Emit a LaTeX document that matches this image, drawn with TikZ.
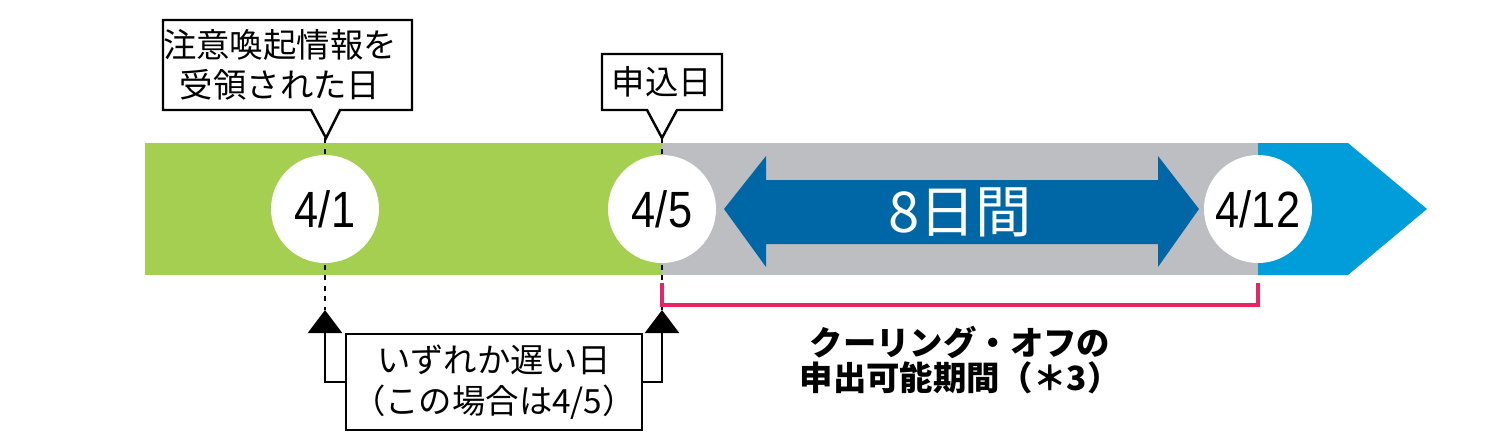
\documentclass[tikz,border=0pt]{standalone}
\usepackage{fontspec}
\setmainfont{Liberation Sans}
\newfontfamily\jpfont{Noto Sans CJK JP}
\usetikzlibrary{arrows.meta, positioning}

\definecolor{grassgreen}{RGB}{165,207,80}
\definecolor{bandgray}{RGB}{189,190,194}
\definecolor{skyblue}{RGB}{0,157,219}
\definecolor{deepblue}{RGB}{0,103,166}
\definecolor{coolpink}{RGB}{234,35,100}

\tikzset{
  datedot/.style = {circle, fill=white, inner sep=0pt, minimum size=108*0.02cm,
                    font=\fontsize{29}{29}\selectfont},
  jptext/.style  = {align=center, font=\jpfont\fontsize{19}{23}\selectfont},
  callout/.style = {draw, line width=1.4pt, fill=white},
}

\begin{document}
\begin{tikzpicture}[x=0.02cm, y=-0.02cm]
    \useasboundingbox (0, 0) rectangle (1499, 433);
    % bands
    \fill [grassgreen] (145, 143) rectangle (662, 275);
    \fill [bandgray] (662, 143) rectangle (1258, 275);
    \fill [skyblue] (1258, 143) -- (1348, 143) -- (1427, 209) -- (1348, 275) -- (1258, 275) -- cycle;

    % eight days
    \fill [deepblue] (724, 209) -- (766, 156) -- (766, 180) -- (1158, 180) -- (1158, 156)
      -- (1199, 209) -- (1158, 267) -- (1158, 244) -- (766, 244) -- (766, 267) -- cycle;
    \node [text=white, font=\jpfont\fontsize{32}{32}\selectfont] (span) at (960, 212) {8日間};

    % dashed ticks
    \draw [dashed, line width=0.8pt] (325, 138) -- (325, 310);
    \draw [dashed, line width=0.8pt] (662, 138) -- (662, 310);

    \foreach \x/\d/\n in {325/4\slash1/d1, 662/4\slash5/d5, 1258/4\slash12/d12} {
      \node [datedot] (\n) at (\x, 209) {\scalebox{0.85}[1]{\d}};
    }

    % callouts above
    \draw [callout] (163, 20) -- (412, 20) -- (412, 110) -- (340, 110) -- (326, 138)
      -- (311, 110) -- (163, 110) -- cycle;
    \node [jptext] (notice) at (280, 65) {注意喚起情報を\\受領された日};
    \draw [callout] (602, 54) -- (722, 54) -- (722, 110) -- (677, 110) -- (662, 138)
      -- (647, 110) -- (602, 110) -- cycle;
    \node [jptext] (apply) at (662, 82) {申込日};

    % later of the two
    \node [callout, jptext, minimum width=262*0.02cm, minimum height=96*0.02cm] (later) at (494, 382)
      {いずれか遅い日\\（この場合は4/5）};
    \coordinate (up1) at (325, 310);
    \coordinate (up5) at (662, 310);
    \draw [line width=1.4pt, -{Triangle[length=23*0.02cm, width=34*0.02cm]}] (later.west) -| (up1);
    \draw [line width=1.4pt, -{Triangle[length=23*0.02cm, width=34*0.02cm]}] (later.east) -| (up5);

    % cooling-off period
    \draw [coolpink, line width=2pt] (662, 283) -- (662, 305) -- (1258, 305) -- (1258, 283);
    \node [jptext, font=\jpfont\bfseries\fontsize{19}{20}\selectfont] (period) at (960, 360)
      {クーリング・オフの\\申出可能期間（＊3）};
\end{tikzpicture}
\end{document}
